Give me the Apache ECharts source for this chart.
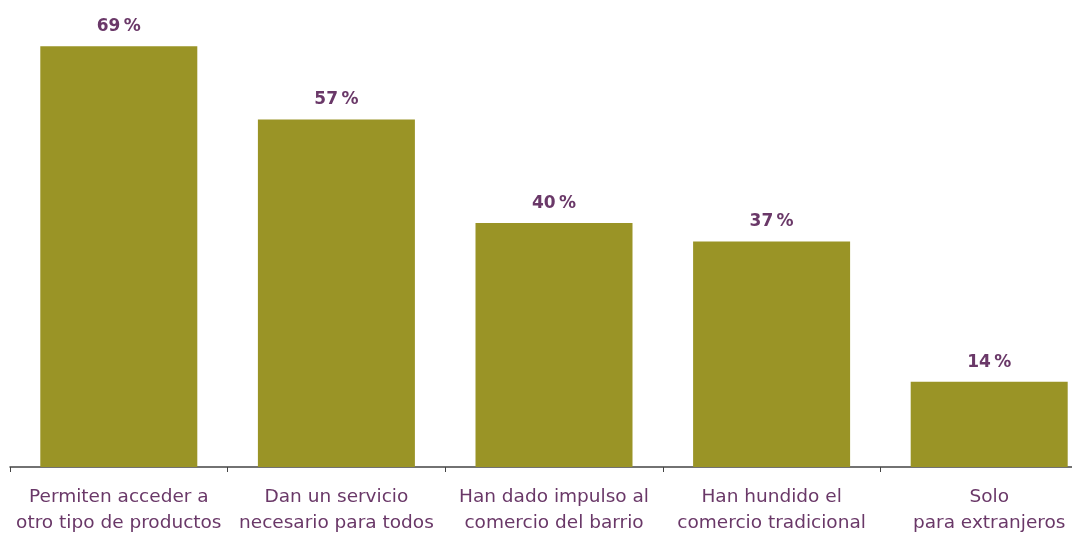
<!DOCTYPE html>
<html>
<head>
<meta charset="utf-8">
<style>
  html, body { margin: 0; padding: 0; background: #fff; }
  #chart { width: 1072px; height: 533px; }
</style>
<script src="https://cdn.jsdelivr.net/npm/echarts@6/dist/echarts.min.js"></script>
</head>
<body>
<div id="chart"></div>
<script>
const categories = [
  'Permiten acceder a\notro tipo de productos',
  'Dan un servicio\nnecesario para todos',
  'Han dado impulso al\ncomercio del barrio',
  'Han hundido el\ncomercio tradicional',
  'Solo\npara extranjeros'
]
const values = [69, 57, 40, 37, 14]

const purple = '#6a3868'
const olive = '#9a9426'
const font = 'DejaVu Sans, Verdana, sans-serif'

const chart = echarts.init(document.getElementById('chart'))
chart.setOption({
  animation: false,
  grid: { left: 10, right: -26, top: 28, bottom: 66, outerBoundsMode: 'none', containLabel: false },
  xAxis: {
    type: 'category',
    data: categories,
    axisLine: { lineStyle: { color: '#444', width: 1.5 } },
    axisTick: { show: true, length: 5, lineStyle: { color: '#444' } },
    axisLabel: {
      color: purple,
      fontFamily: font,
      fontSize: 18.5,
      lineHeight: 26,
      margin: 17,
      interval: 0
    }
  },
  yAxis: { type: 'value', min: 0, max: 72, show: false },
  series: [{
    type: 'bar',
    data: values,
    barWidth: 157,
    itemStyle: { color: olive },
    label: {
      show: true,
      position: 'top',
      distance: 11,
      color: purple,
      fontFamily: font,
      fontWeight: 'bold',
      fontSize: 17,
      formatter: (p) => p.value + '\u2009%'
    }
  }]
})
</script>
</body>
</html>
